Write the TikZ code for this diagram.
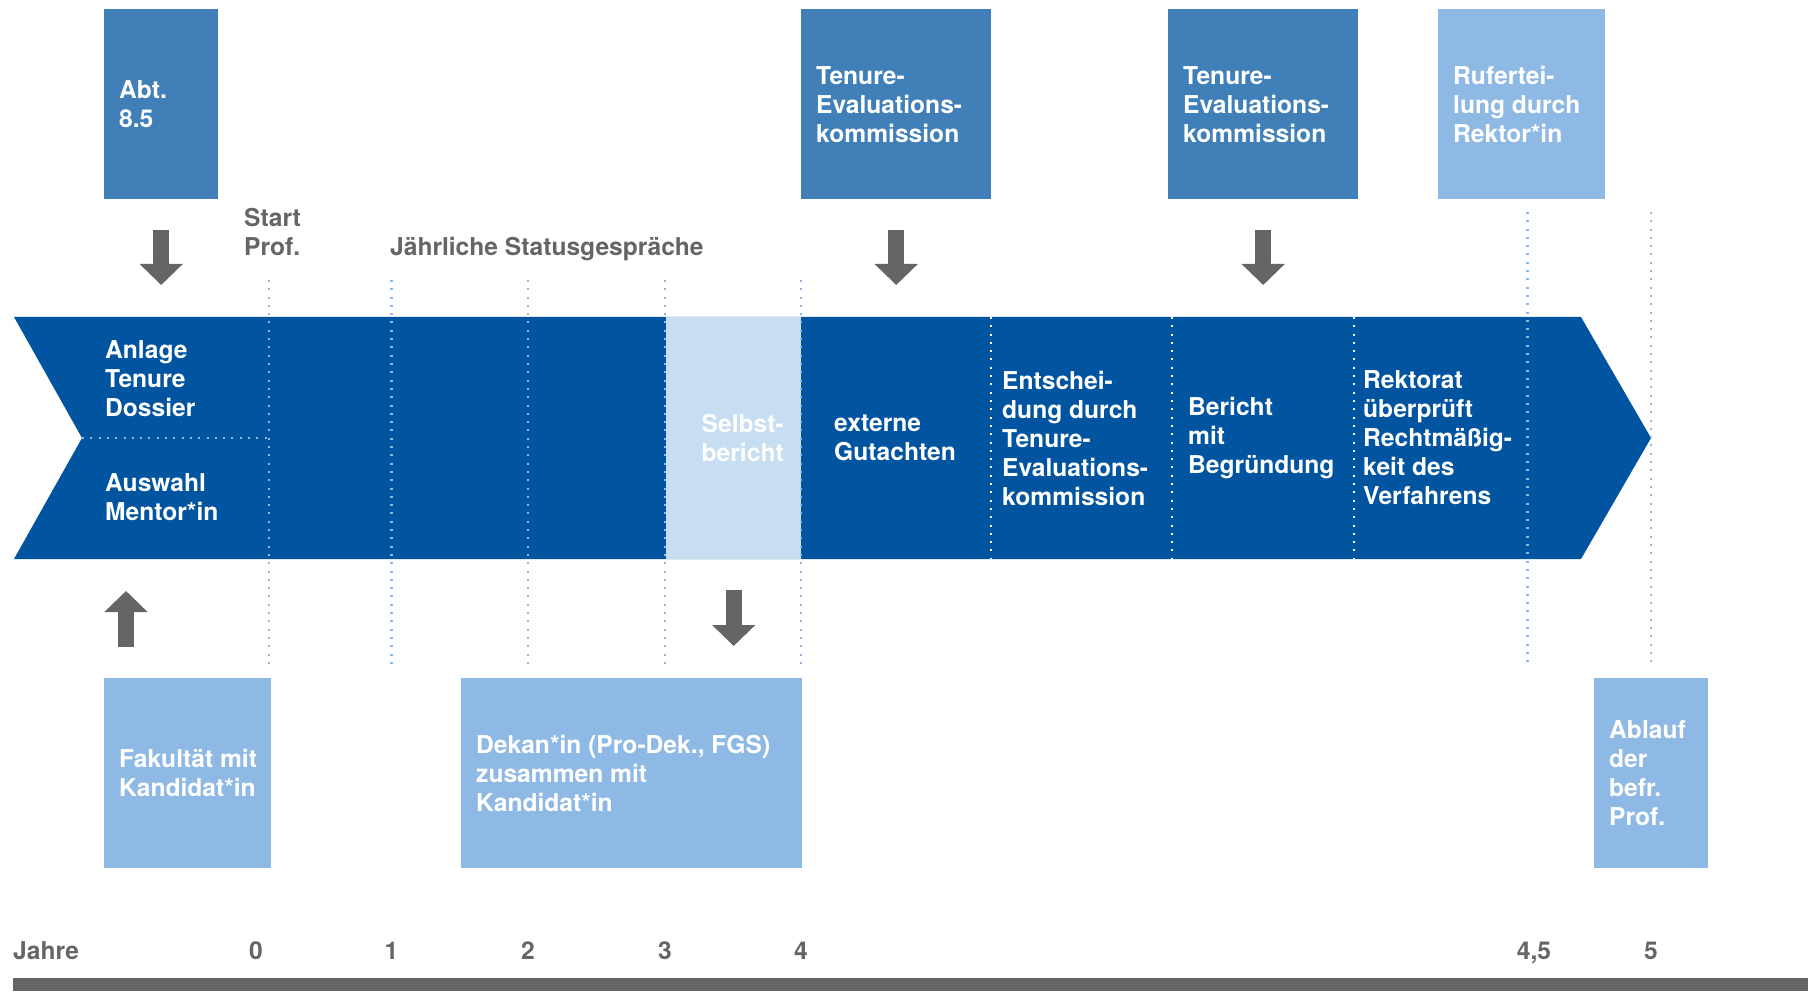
\documentclass[tikz,border=0pt]{standalone}
\usepackage{fontspec}
\setmainfont{TeX Gyre Heros}
\usetikzlibrary{arrows.meta}

\definecolor{bandblue}{HTML}{0054A0}
\definecolor{boxblue}{HTML}{407FB7}
\definecolor{lightblue}{HTML}{8EB9E4}
\definecolor{paleblue}{HTML}{C7DDF1}
\definecolor{darkgrey}{HTML}{646567}

\tikzset{
  infobox/.style={anchor=north west,inner sep=0pt,minimum width=#1,minimum height=190},
  boxtext/.style={text=white,align=left,anchor=west,inner sep=0pt},
  greylabel/.style={text=darkgrey,inner sep=0pt},
  gridline/.style={draw=lightblue,line width=2.2pt,dash pattern=on 2pt off 6.3pt},
  celldivider/.style={draw=white,line width=2.2pt,dash pattern=on 2pt off 6.3pt},
  blockarrow/.style={draw=darkgrey,line width=16pt,-{Triangle[width=42pt,length=21pt]},
    shorten <=31pt,shorten >=32pt}
}

\begin{document}
\begin{tikzpicture}[x=1pt,y=-1pt,font=\fontsize{24.6}{29}\selectfont\bfseries]
\useasboundingbox (0,0) rectangle (1808,1000);
\coordinate (bandtop) at (0,317);
\coordinate (bandbot) at (0,559);

% the band
\fill[bandblue] (14,317) -- (1581,317) -- (1651,438) -- (1581,559) -- (14,559) -- (82,438) -- cycle;
\node[infobox=135,minimum height=242,fill=paleblue] (selbst) at (666,317) {};

% boxes above and below
\node[infobox=114,fill=boxblue] (abt) at (104,9) {};
\node[infobox=190,fill=boxblue] (tek1) at (801,9) {};
\node[infobox=190,fill=boxblue] (tek2) at (1168,9) {};
\node[infobox=167,fill=lightblue] (ruf) at (1438,9) {};
\node[infobox=167,fill=lightblue] (fak) at (104,678) {};
\node[infobox=341,fill=lightblue] (dek) at (461,678) {};
\node[infobox=114,fill=lightblue] (abl) at (1594,678) {};

% year lines
\foreach \x in {269,391.5,528,665,801}
  \draw[gridline] (\x,280) -- (\x,664);
\foreach \x in {1527.5,1651}
  \draw[gridline] (\x,212) -- (\x,664);
\draw[gridline] (82,438) -- (269,438);
\foreach \x in {991,1172,1354}
  \draw[celldivider] (\x,317) -- (\x,559);

% texts
\node[boxtext] (abt-t) at ([xshift=15pt]abt.west) {Abt.\\8.5};
\node[boxtext] (tek1-t) at ([xshift=15pt]tek1.west) {Tenure-\\Evaluations-\\kommission};
\node[boxtext] (tek2-t) at ([xshift=15pt]tek2.west) {Tenure-\\Evaluations-\\kommission};
\node[boxtext] (ruf-t) at ([xshift=15pt]ruf.west) {Rufertei-\\lung durch\\Rektor*in};
\node[boxtext] (fak-t) at ([xshift=15pt]fak.west) {Fakultät mit\\Kandidat*in};
\node[boxtext] (dek-t) at ([xshift=15pt]dek.west) {Dekan*in (Pro-Dek., FGS)\\zusammen mit\\Kandidat*in};
\node[boxtext] (abl-t) at ([xshift=15pt]abl.west) {Ablauf\\der\\befr.\\Prof.};

\node[boxtext] (anlage) at (105,378.5) {Anlage\\Tenure\\Dossier};
\node[boxtext] (auswahl) at (105,497) {Auswahl\\Mentor*in};
\node[boxtext] (selbst-t) at (701.5,438) {Selbst-\\bericht};
\node[boxtext] (gutachten) at (834,438) {externe\\Gutachten};
\node[boxtext] (entscheidung) at (1002,438) {Entschei-\\dung durch\\Tenure-\\Evaluations-\\kommission};
\node[boxtext] (bericht) at (1188,438) {Bericht\\mit\\Begründung};
\node[boxtext] (rektorat) at (1363,438) {Rektorat\\überprüft\\Rechtmäßig-\\keit des\\Verfahrens};

\node[greylabel,align=left,anchor=south west] (start) at (244,256) {Start\\Prof.};
\node[greylabel,anchor=base west] (status) at (390,255.5) {Jährliche Statusgespräche};

% arrows
\coordinate (fakarrow) at ([xshift=22pt]fak.north west);
\draw[blockarrow] (abt.south) -- (abt.south |- bandtop);
\draw[blockarrow] (tek1.south) -- (tek1.south |- bandtop);
\draw[blockarrow] (tek2.south) -- (tek2.south |- bandtop);
\draw[blockarrow] (fakarrow) -- (fakarrow |- bandbot);
\draw[blockarrow] (selbst.south) -- (selbst.south |- dek.north);

% time axis
\node[greylabel,anchor=base west] (jahre) at (13,959.5) {Jahre};
\foreach \x/\t [count=\i] in {256/0,391.5/1,528/2,665/3,801/4,1534/{4,5},1651/5}
  \node[greylabel,anchor=base] (year\i) at (\x,959.5) {\t};
\fill[darkgrey] (13,978) rectangle (1808,991);
\end{tikzpicture}
\end{document}
